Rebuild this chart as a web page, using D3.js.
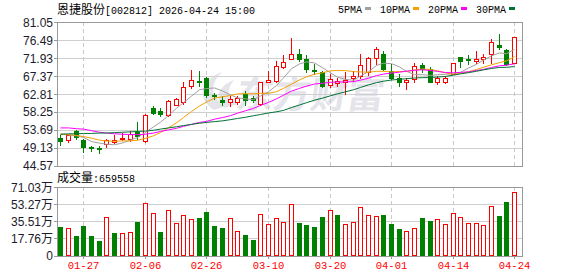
<!DOCTYPE html>
<html>
<head>
<meta charset="utf-8">
<script src="https://cdn.jsdelivr.net/npm/d3@7"></script>
<style>
  body { margin: 0; background: #fff; }
  svg { display: block; }
</style>
</head>
<body>
<svg id="chart" width="578" height="276"></svg>
<script>
// trading days shown (MM-DD)
const dates = ["01-22","01-23","01-26","01-27","01-28","01-29","01-30","02-02","02-03","02-04",
  "02-05","02-06","02-09","02-10","02-11","02-12","02-13","02-24","02-25","02-26",
  "02-27","03-02","03-03","03-04","03-05","03-06","03-09","03-10","03-11","03-12",
  "03-13","03-16","03-17","03-18","03-19","03-20","03-23","03-24","03-25","03-26",
  "03-27","03-30","03-31","04-01","04-02","04-03","04-07","04-08","04-09","04-10",
  "04-13","04-14","04-15","04-16","04-17","04-20","04-21","04-22","04-23","04-24"];

const opens = [51.56,51.1,53.3,51.1,49.4,49.1,50.1,50.6,51.3,51.3,
  53.2,51.0,59.2,58.6,57.5,60.1,60.8,64.8,66.2,67.0,
  62.6,61.3,60.8,60.8,62.9,61.7,60.3,66.0,66.2,69.7,
  71.7,73.0,71.7,68.9,68.3,65.2,65.6,65.9,67.0,67.5,
  68.3,72.1,73.1,68.7,66.8,65.8,66.6,70.3,69.2,65.8,
  66.0,68.0,72.3,71.7,71.1,71.6,73.0,75.3,74.0,70.8];
const highs = [52.5,52.6,53.7,51.4,49.5,49.6,51.3,52.3,52.8,53.3,
  55.6,57.7,59.7,59.2,61.3,61.8,65.8,68.9,68.7,67.1,
  63.1,62.3,62.4,62.4,63.7,62.4,66.0,68.6,71.1,72.8,
  77.0,74.2,72.8,70.4,68.7,67.9,66.8,68.3,68.6,73.0,
  72.3,74.8,73.8,70.4,67.9,66.9,70.8,70.6,69.8,67.5,
  67.5,70.8,72.3,72.8,73.8,73.1,76.8,78.2,74.2,77.4];
const lows = [49.96,50.7,51.3,48.0,48.4,47.7,49.4,50.4,51.2,51.0,
  51.3,50.7,57.7,57.3,57.2,59.9,60.4,64.3,64.9,62.0,
  61.5,60.1,59.8,60.3,60.0,60.7,59.9,65.8,65.9,69.4,
  71.7,71.3,68.3,67.9,64.5,64.5,64.9,62.8,66.2,67.0,
  67.6,70.4,68.9,66.6,64.9,64.2,65.8,68.3,65.8,65.3,
  65.5,67.8,69.8,70.4,70.6,70.6,70.8,74.2,70.2,70.6];
const closes = [50.97,52.5,51.8,49.4,49.0,48.9,51.2,51.1,51.7,52.7,
  52.2,57.6,58.1,57.7,61.1,61.5,64.7,66.4,65.8,62.6,
  62.3,60.9,61.5,61.8,61.4,61.3,65.8,66.5,70.0,71.0,
  73.0,71.8,69.2,68.6,64.9,66.6,66.2,66.4,67.5,70.2,
  72.1,74.2,69.2,67.0,66.0,66.5,70.0,69.2,66.0,66.9,
  67.0,70.7,71.1,71.4,71.7,72.3,76.1,74.8,70.4,77.4];
// volume in 万
const volumes = [29.9,28.8,20.5,30.6,20.5,15.0,39.6,23.3,23.0,24.4,
  34.7,54.1,43.8,24.4,46.9,33.7,41.7,37.9,38.9,45.1,
  30.6,28.8,38.9,25.4,21.3,16.1,42.7,32.7,38.9,34.7,
  53.1,33.7,31.6,29.6,39.9,46.9,42.0,32.4,34.4,50.0,
  41.7,40.6,42.0,32.7,27.5,25.1,28.2,38.9,35.8,37.5,
  32.4,43.8,39.6,33.4,33.4,31.3,51.0,41.0,55.5,65.9558];

// MA values before a full window exists inside the view
const ma5Head = [52.6,52.4,52.2,51.8];
const ma10Head = [52.6,52.5,52.3,52.0,51.6,51.1,50.9,50.8,50.9];
const ma20Head = [54.2,54.2,54.0,53.9,53.5,53.1,52.9,52.7,52.6,52.5,
  52.5,52.6,52.9,53.3,53.7,54.1,54.6,55.1,55.6];
const ma30Head = [52.6,52.7,52.7,52.8,52.8,52.9,52.9,53.0,53.1,53.2,
  53.3,53.4,53.6,53.9,54.2,54.5,54.8,55.1,55.4,55.6,
  55.8,56.0,56.3,56.6,56.9,57.3,57.6,58.0,58.3];

const priceTicks = [81.05,76.49,71.93,67.37,62.81,58.25,53.69,49.13,44.57];
const volTicks = [0,17.76,35.51,53.27,71.03];
const tickDates = ["01-27","02-06","02-26","03-10","03-20","04-01","04-14","04-24"];
const maNames = ["5PMA","10PMA","20PMA","30PMA"];
const maColors = ["#a0a0a0","#f5a100","#ff00ff","#007236"];

const UP = "#ff0000", DOWN = "#008000";
const left = 57, right = 522;
const pTop = 22.3, pBot = 165.8, vTop = 187, vBot = 255.5;

const svg = d3.select("#chart");

const x = d3.scaleBand().domain(dates).range([56.5, 518]);
const bw = x.bandwidth();
const cx = d => Math.round(x(d) + bw / 2);
const y = d3.scaleLinear().domain([44.57, 81.05]).range([pBot, pTop]);
const yv = d3.scaleLinear().domain([0, 71.03]).range([vBot, vTop]);

function movingAvg(n, head) {
    return closes.map((c, i) => i < n - 1 ? head[i] : d3.mean(closes.slice(i - n + 1, i + 1)));
}
const maSeries = [movingAvg(5, ma5Head), movingAvg(10, ma10Head), movingAvg(20, ma20Head), movingAvg(30, ma30Head)];

// title + legend
const title = svg.append("text").attr("x", 57).attr("y", 14).attr("fill", "#000");
title.append("tspan").attr("font-family", "Noto Sans CJK SC").attr("font-size", 12).text("恩捷股份");
title.append("tspan").attr("font-family", "Liberation Mono").attr("font-size", 10).text("[002812] 2026-04-24 15:00");

let lx = 338;
maNames.forEach((name, k) => {
    const t = svg.append("text").attr("x", lx).attr("y", 13)
        .attr("font-family", "Liberation Mono").attr("font-size", 10).attr("fill", "#000").text(name);
    const w = t.node().getComputedTextLength();
    svg.append("rect").attr("x", Math.round(lx + w + 3)).attr("y", 7).attr("width", 6).attr("height", 3)
        .attr("fill", maColors[k]);
    lx = lx + w + 18;
});

// watermark (logo swirl + name)
const wm = svg.append("g").attr("fill", "#e4e4ea");
wm.append("path").attr("d", "M214,110 C196,98 200,80 222,72 C210,84 209,97 226,106 Z");
wm.append("path").attr("d", "M224,108 C214,98 218,86 234,80 C226,90 227,99 238,104 Z");
wm.append("text").attr("x", 236).attr("y", 108)
    .attr("font-family", "Noto Sans CJK SC").attr("font-weight", "bold").attr("font-size", 37)
    .attr("transform", "skewX(-8) translate(14,0)")
    .text("东方财富");

// grids
const grid = svg.append("g").attr("shape-rendering", "crispEdges");
grid.selectAll(".hp").data(priceTicks).join("line")
    .attr("x1", left).attr("x2", right)
    .attr("y1", d => Math.round(y(d)) + 0.5).attr("y2", d => Math.round(y(d)) + 0.5)
    .attr("stroke", "#cfcfcf");
grid.selectAll(".hv").data(volTicks).join("line")
    .attr("x1", left).attr("x2", right)
    .attr("y1", d => Math.round(yv(d)) + 0.5).attr("y2", d => Math.round(yv(d)) + 0.5)
    .attr("stroke", "#cfcfcf");
[[pTop, pBot], [vTop, vBot]].forEach(([a, b]) => {
    grid.selectAll(null).data(tickDates).join("line")
        .attr("x1", d => cx(d) + 0.5).attr("x2", d => cx(d) + 0.5)
        .attr("y1", a).attr("y2", b)
        .attr("stroke", "#c8c8c8").attr("stroke-dasharray", "4,3");
});

// frames
[[pTop, pBot], [vTop, vBot]].forEach(([a, b]) => {
    svg.append("rect").attr("x", left + 0.5).attr("y", Math.round(a) + 0.5)
        .attr("width", right - left).attr("height", Math.round(b) - Math.round(a))
        .attr("fill", "none").attr("stroke", "#999").attr("shape-rendering", "crispEdges");
});

// y axis labels
svg.selectAll(".pl").data(priceTicks).join("text")
    .attr("x", 53).attr("y", d => y(d) + 4.5)
    .attr("text-anchor", "end").attr("font-family", "Liberation Sans").attr("font-size", 12)
    .attr("fill", "#1c1c2c").text(d => d.toFixed(2));
svg.selectAll(".pt").data(priceTicks).join("line")
    .attr("x1", left - 3).attr("x2", left)
    .attr("y1", d => Math.round(y(d)) + 0.5).attr("y2", d => Math.round(y(d)) + 0.5)
    .attr("stroke", "#999").attr("shape-rendering", "crispEdges");

const vl = svg.selectAll(".vl").data(volTicks).join("text")
    .attr("x", 53).attr("y", d => yv(d) + 4.5)
    .attr("text-anchor", "end").attr("fill", "#1c1c2c").attr("font-size", 12);
vl.append("tspan").attr("font-family", "Liberation Sans").text(d => d === 0 ? "0" : d.toFixed(2));
vl.filter(d => d !== 0).append("tspan").attr("font-family", "Noto Sans CJK SC").text("万");
svg.selectAll(".vt").data(volTicks).join("line")
    .attr("x1", left - 3).attr("x2", left)
    .attr("y1", d => Math.round(yv(d)) + 0.5).attr("y2", d => Math.round(yv(d)) + 0.5)
    .attr("stroke", "#999").attr("shape-rendering", "crispEdges");

const vt = svg.append("text").attr("x", 57).attr("y", 182).attr("fill", "#000");
vt.append("tspan").attr("font-family", "Noto Sans CJK SC").attr("font-size", 12).text("成交量");
vt.append("tspan").attr("font-family", "Liberation Mono").attr("font-size", 10)
    .text(":" + Math.round(volumes[volumes.length - 1] * 10000));

// x labels
svg.selectAll(".xl").data(tickDates).join("text")
    .attr("x", d => cx(d) + 0.5).attr("y", 269)
    .attr("text-anchor", "middle").attr("font-family", "Liberation Mono").attr("font-size", 10.5)
    .attr("fill", "#ff0000").text(d => d);
svg.selectAll(".xt").data(tickDates).join("line")
    .attr("x1", d => cx(d) + 0.5).attr("x2", d => cx(d) + 0.5)
    .attr("y1", vBot).attr("y2", vBot + 3)
    .attr("stroke", "#999").attr("shape-rendering", "crispEdges");

// candles
const data = dates.map((d, i) => ({
    d, o: opens[i], h: highs[i], l: lows[i], c: closes[i], v: volumes[i],
    up: closes[i] >= opens[i],
    volUp: i === 0 ? closes[i] >= opens[i] : closes[i] >= closes[i - 1]
}));

const cg = svg.append("g").attr("shape-rendering", "crispEdges");
data.forEach(p => {
    const c = cx(p.d);
    const col = p.up ? UP : DOWN;
    const yT = Math.round(y(Math.max(p.o, p.c)));
    const yB = Math.round(y(Math.min(p.o, p.c)));
    const yH = Math.round(y(p.h));
    const yL = Math.round(y(p.l));
    if (p.up) {
        cg.append("line").attr("x1", c + 0.5).attr("x2", c + 0.5).attr("y1", yH).attr("y2", yT).attr("stroke", col);
        cg.append("line").attr("x1", c + 0.5).attr("x2", c + 0.5).attr("y1", yB + 1).attr("y2", yL + 1).attr("stroke", col);
        cg.append("rect").attr("x", c - 1.5).attr("y", yT + 0.5).attr("width", 4).attr("height", Math.max(1, yB - yT))
            .attr("fill", "#fff").attr("stroke", col);
    } else {
        cg.append("line").attr("x1", c + 0.5).attr("x2", c + 0.5).attr("y1", yH).attr("y2", yL + 1).attr("stroke", col);
        cg.append("rect").attr("x", c - 2).attr("y", yT).attr("width", 5).attr("height", Math.max(1, yB - yT + 1))
            .attr("fill", col);
    }
});

// moving averages
maSeries.forEach((s, k) => {
    svg.append("path").datum(s)
        .attr("fill", "none").attr("stroke", maColors[k]).attr("stroke-width", 1)
        .attr("d", d3.line().x((v, i) => cx(dates[i]) + 0.5).y(v => y(v)));
});

// volume bars
const vg = svg.append("g").attr("shape-rendering", "crispEdges");
vg.selectAll("rect").data(data).join("rect")
    .attr("x", p => p.volUp ? cx(p.d) - 1.5 : cx(p.d) - 2)
    .attr("y", p => p.volUp ? Math.round(yv(p.v)) + 0.5 : Math.round(yv(p.v)))
    .attr("width", p => p.volUp ? 4 : 5)
    .attr("height", p => Math.round(vBot) - Math.round(yv(p.v)) - (p.volUp ? 1 : 0))
    .attr("fill", p => p.volUp ? "#fff" : DOWN)
    .attr("stroke", p => p.volUp ? UP : "none");
</script>
</body>
</html>
